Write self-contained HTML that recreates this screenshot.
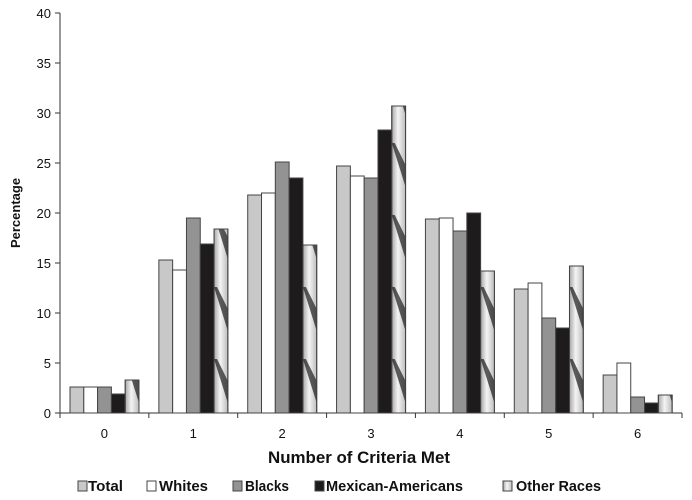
<!DOCTYPE html>
<html><head><meta charset="utf-8"><style>
body{margin:0;background:#fff;}
svg{display:block;font-family:"Liberation Sans",Arial,sans-serif;}
</style></head><body>
<svg id="c" width="692" height="500" xmlns="http://www.w3.org/2000/svg">
<defs>
<linearGradient id="og" x1="0" y1="0" x2="1" y2="0">
<stop offset="0" stop-color="#a8a8a8"/><stop offset="0.45" stop-color="#f4f4f4"/><stop offset="1" stop-color="#bdbdbd"/>
</linearGradient>
</defs>
<g id="g"></g>
</svg>
<script>
const g=document.getElementById('g');
let s='';
const X0=60,X1=682,Y0=413,sc=10,gw=(X1-X0)/7,bw=13.8;
s+=`<line x1="${X0}" y1="13" x2="${X0}" y2="${Y0}" stroke="#333" stroke-width="1"/>`;
s+=`<line x1="${X0}" y1="${Y0}" x2="${X1}" y2="${Y0}" stroke="#333" stroke-width="1"/>`;
for(let v=0;v<=40;v+=5){const y=Y0-v*sc;
s+=`<line x1="${X0-5}" y1="${y}" x2="${X0}" y2="${y}" stroke="#333"/>`;
s+=`<text x="${X0-9}" y="${y+5}" font-size="13" text-anchor="end" fill="#111">${v}</text>`;}
for(let i=0;i<=7;i++){const x=X0+i*gw;s+=`<line x1="${x}" y1="${Y0}" x2="${x}" y2="${Y0+5}" stroke="#333"/>`;}
const d=[[2.6,2.6,2.6,1.9,3.3],[15.3,14.3,19.5,16.9,18.4],[21.8,22,25.1,23.5,16.8],[24.7,23.7,23.5,28.3,30.7],[19.4,19.5,18.2,20,14.2],[12.4,13,9.5,8.5,14.7],[3.8,5,1.6,1,1.8]];
const fills=['#c8c8c8','#ffffff','#939393','#1e1b1c','url(#og)'];
d.forEach((row,i)=>{
 const gx=X0+i*gw;
 s+=`<text x="${gx+gw/2}" y="${Y0+25}" font-size="13" text-anchor="middle" fill="#111">${i}</text>`;
 row.forEach((v,j)=>{
  const x=gx+10+j*bw,h=v*sc,y=Y0-h;
  s+=`<rect x="${x}" y="${y}" width="${bw}" height="${h}" fill="${fills[j]}" stroke="#444" stroke-width="1"/>`;
  if(j==4){
   s+=`<clipPath id="cp${i}"><rect x="${x}" y="${y}" width="${bw}" height="${h}"/></clipPath><g clip-path="url(#cp${i})">`;
   for(let yy=Y0+40;yy>y-80;yy-=72){
     s+=`<polygon points="${x},${yy-22} ${x+3},${yy-22} ${x+bw},${yy} ${x+bw},${yy+22}" fill="#1a1a1a" opacity="0.7"/>`;
   }
   s+=`</g><rect x="${x}" y="${y}" width="${bw}" height="${h}" fill="none" stroke="#444" stroke-width="1"/>`;
  }
 });
});
s+=`<text x="20" y="213" font-size="13" font-weight="bold" text-anchor="middle" transform="rotate(-90 20 213)" fill="#111">Percentage</text>`;
s+=`<text x="359" y="463" font-size="17" font-weight="bold" text-anchor="middle" fill="#111" textLength="182" lengthAdjust="spacingAndGlyphs">Number of Criteria Met</text>`;
const lg=[[78,88,'Total','#c8c8c8',35],[147,159,'Whites','#fff',49],[233,245,'Blacks','#939393',44],[315,326,'Mexican-Americans','#1e1b1c',137],[503,516,'Other Races','url(#og)',85]];
lg.forEach(([bx,x,t,f,w])=>{
 s+=`<rect x="${bx}" y="481" width="9" height="10" fill="${f}" stroke="#444"/>`;
 s+=`<text x="${x}" y="491" font-size="14.5" font-weight="bold" fill="#111" textLength="${w}" lengthAdjust="spacingAndGlyphs">${t}</text>`;
});
g.innerHTML=s;
</script>
</body></html>
